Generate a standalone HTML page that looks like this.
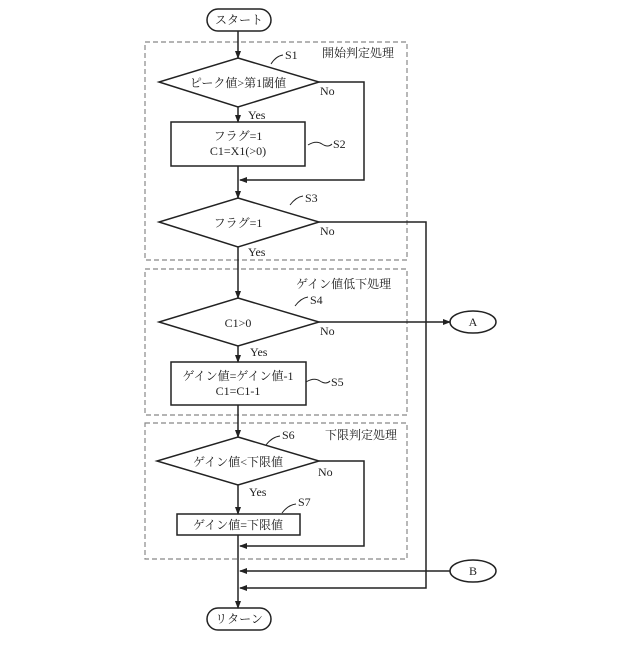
<!DOCTYPE html><html><head><meta charset="utf-8"><style>body{margin:0;background:#fff}svg text{font-family:"Liberation Serif","Noto Serif CJK SC",serif;font-size:12px;fill:#222}</style></head><body>
<svg width="640" height="640" viewBox="0 0 640 640">
<defs><marker id="a" markerWidth="8" markerHeight="8" refX="7" refY="4" orient="auto" markerUnits="userSpaceOnUse"><path d="M0,1 L8,4 L0,7z" fill="#222"/></marker></defs>
<g fill="none" stroke="#888" stroke-dasharray="5,3" stroke-width="1.2">
<rect x="145" y="42" width="262" height="218"/><rect x="145" y="269" width="262" height="146"/><rect x="145" y="423" width="262" height="136"/></g>
<g fill="none" stroke="#222" stroke-width="1.5">
<rect x="207" y="9" width="64" height="22" rx="11"/>
<rect x="207" y="608" width="64" height="22" rx="11"/>
<ellipse cx="473" cy="322" rx="23" ry="11"/><ellipse cx="473" cy="571" rx="23" ry="11"/>
<path d="M238,58 L319,82 L238,107 L159,82z"/>
<rect x="171" y="122" width="134" height="44"/>
<path d="M238,198 L319,222 L238,247 L159,222z"/>
<path d="M238,298 L319,322 L238,346 L159,322z"/>
<rect x="171" y="362" width="135" height="43"/>
<path d="M238,437 L319,461 L238,485 L157,461z"/>
<rect x="177" y="514" width="123" height="21"/>
<path d="M238,31 V58" marker-end="url(#a)"/>
<path d="M238,107 V122" marker-end="url(#a)"/>
<path d="M238,166 V198" marker-end="url(#a)"/>
<path d="M319,82 H364 V180 H240" marker-end="url(#a)"/>
<path d="M238,247 V298" marker-end="url(#a)"/>
<path d="M319,222 H426 V588 H240" marker-end="url(#a)"/>
<path d="M319,322 H450" marker-end="url(#a)"/>
<path d="M238,346 V362" marker-end="url(#a)"/>
<path d="M238,405 V437" marker-end="url(#a)"/>
<path d="M238,485 V514" marker-end="url(#a)"/>
<path d="M319,461 H364 V546 H240" marker-end="url(#a)"/>
<path d="M450,571 H240" marker-end="url(#a)"/>
<path d="M238,535 V608" marker-end="url(#a)"/>
<g stroke-width="1"><path d="M271,64 Q276,56 283,55"/><path d="M308,145 Q316,140 322,144 T332,144"/><path d="M290,205 Q296,197 303,196"/><path d="M295,306 Q301,298 308,297"/><path d="M306,382 Q314,377 320,381 T330,381"/><path d="M266,445 Q272,437 280,436"/><path d="M282,513 Q288,505 296,504"/></g>
</g>
<g text-anchor="middle">
<text x="239" y="24">スタート</text><text x="239" y="623">リターン</text>
<text x="473" y="326">A</text><text x="473" y="575">B</text>
<text x="238" y="87">ピーク値&gt;第1閾値</text>
<text x="238" y="140">フラグ=1</text><text x="238" y="155">C1=X1(&gt;0)</text>
<text x="238" y="227">フラグ=1</text>
<text x="238" y="327">C1&gt;0</text>
<text x="238" y="380">ゲイン値=ゲイン値-1</text><text x="238" y="395">C1=C1-1</text>
<text x="238" y="466">ゲイン値&lt;下限値</text>
<text x="238" y="529">ゲイン値=下限値</text>
</g>
<text x="322" y="57">開始判定処理</text><text x="296" y="288">ゲイン値低下処理</text><text x="325" y="439">下限判定処理</text>
<text x="285" y="59">S1</text><text x="333" y="148">S2</text><text x="305" y="202">S3</text><text x="310" y="304">S4</text><text x="331" y="386">S5</text><text x="282" y="439">S6</text><text x="298" y="506">S7</text>
<text x="248" y="119">Yes</text><text x="248" y="256">Yes</text><text x="250" y="356">Yes</text><text x="249" y="496">Yes</text>
<text x="320" y="95">No</text><text x="320" y="235">No</text><text x="320" y="335">No</text><text x="318" y="476">No</text>
</svg></body></html>
